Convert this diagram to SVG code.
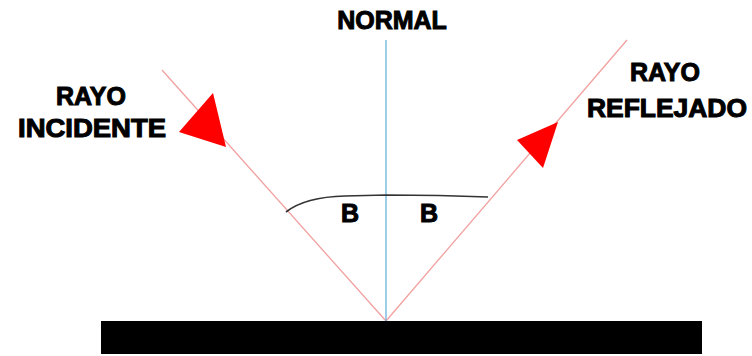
<svg xmlns="http://www.w3.org/2000/svg" width="752" height="356" viewBox="0 0 752 356">
<style>
.lbl{font-family:"Liberation Sans",Arial,sans-serif;font-weight:bold;font-size:25px;fill:#000;stroke:#000;stroke-width:1;text-anchor:middle}
.ray{stroke:#f2a0a0;stroke-width:1.3;fill:none}
.head{fill:#ff0000}
</style>
<rect width="752" height="356" fill="#fff"/>
<g id="connectors">
<line class="ray" x1="162" y1="70" x2="386" y2="321"/>
<line class="ray" x1="386" y1="321" x2="627" y2="40"/>
<line x1="386" y1="40" x2="386" y2="321" stroke="#5aaed8" stroke-width="1.2"/>
<polygon class="head" points="213,93 179,132 226,147"/>
<polygon class="head" points="558,122 517,140 543,168"/>
</g>
<g id="angle">
<path d="M286,212 Q305,197 345,196 L386,195 Q440,195 488,197" fill="none" stroke="#333" stroke-width="1.6"/>
<text class="lbl" x="350" y="222">B</text>
<text class="lbl" x="429" y="222">B</text>
</g>
<g id="surface">
<rect x="101" y="321" width="601" height="33" fill="#000"/>
</g>
<g id="normal">
<text class="lbl" x="392" y="29">NORMAL</text>
</g>
<g id="incident">
<text class="lbl" x="91" y="105">RAYO</text>
<text class="lbl" x="92" y="137" textLength="148" lengthAdjust="spacingAndGlyphs">INCIDENTE</text>
</g>
<g id="reflected">
<text class="lbl" x="665" y="81">RAYO</text>
<text class="lbl" x="667" y="117" textLength="160" lengthAdjust="spacingAndGlyphs">REFLEJADO</text>
</g>
</svg>
